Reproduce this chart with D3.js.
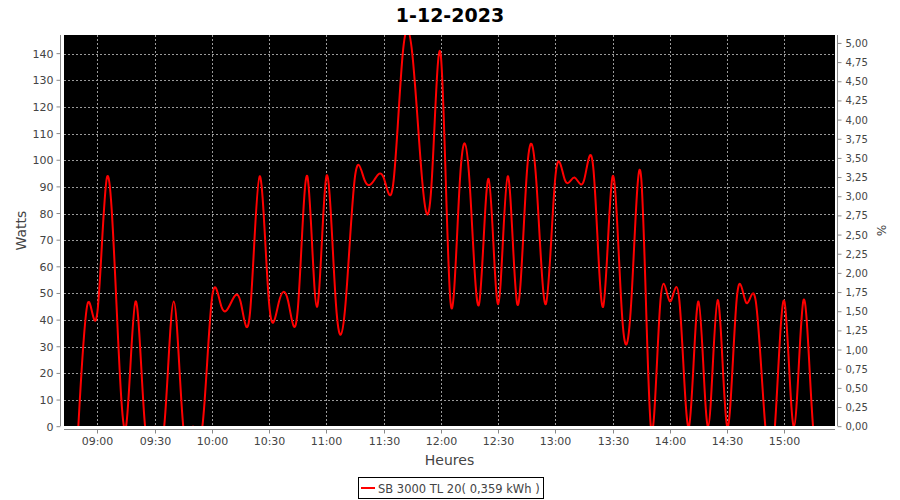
<!DOCTYPE html>
<html>
<head>
    <meta charset="UTF-8">
    <title>1-12-2023</title>
    <script type="text/javascript" src="https://d3js.org/d3.v7.min.js"></script>
    <style>
        body { margin: 0; background: #fff; }
        text { font-family: "DejaVu Sans", sans-serif; }
    </style>
</head>
<body>
<svg width="900" height="500"></svg>
<script>
    // donnees : une mesure toutes les 5 minutes
    var titre = "1-12-2023";
    var nomSerie = "SB 3000 TL 20( 0,359 kWh )";
    var heures = [
        "08:50", "08:55", "09:00", "09:05", "09:10", "09:15", "09:20", "09:25",
        "09:30", "09:35", "09:40", "09:45", "09:50", "09:55", "10:00", "10:05", "10:10",
        "10:15", "10:20", "10:25", "10:30", "10:35", "10:40", "10:45", "10:50", "10:55",
        "11:00", "11:05", "11:10", "11:15", "11:20", "11:25", "11:30", "11:35", "11:40",
        "11:45", "11:50", "11:55", "12:00", "12:05", "12:10", "12:15", "12:20", "12:25",
        "12:30", "12:35", "12:40", "12:45", "12:50", "12:55", "13:00", "13:05", "13:10",
        "13:15", "13:20", "13:25", "13:30", "13:35", "13:40", "13:45", "13:50", "13:55",
        "14:00", "14:05", "14:10", "14:15", "14:20", "14:25", "14:30", "14:35", "14:40",
        "14:45", "14:50", "14:55", "15:00", "15:05", "15:10", "15:15", "15:20"
    ];
    var watts = [
        0, 46.5, 43, 93.5, 46, 0, 47, 0,
        0, 0, 47, 0, 0, 0, 48, 45, 46.5,
        47, 43, 94, 46, 46.5, 47, 44, 94, 45,
        94, 46, 46, 94, 92.5, 92.5, 93.5, 91, 140,
        140, 94, 90, 139, 47, 93, 92, 46, 93,
        46, 94, 46, 95, 92, 46, 94, 92.5, 93.5,
        92.5, 96, 45, 94, 41, 50, 93, 0, 47,
        47, 47, 0, 47, 0, 47.5, 0, 48, 46.5,
        47, 0, 0, 47, 0, 47.5, 0, 0
    ];
    var ticksWatts = [0, 10, 20, 30, 40, 50, 60, 70, 80, 90, 100, 110, 120, 130, 140];
    var ticksPct = [0, 0.25, 0.5, 0.75, 1, 1.25, 1.5, 1.75, 2, 2.25, 2.5, 2.75, 3, 3.25, 3.5, 3.75, 4, 4.25, 4.5, 4.75, 5];
    var ticksHeures = ["09:00", "09:30", "10:00", "10:30", "11:00", "11:30", "12:00", "12:30", "13:00", "13:30", "14:00", "14:30", "15:00"];
    var pctMax = 5.11;

    var marge = {top: 35, left: 64, right: 65, bottom: 74};
    var svg = d3.select("svg");
    var width = +svg.attr("width");
    var height = +svg.attr("height");
    var x0 = marge.left, x1 = width - marge.right;
    var y0 = marge.top, y1 = height - marge.bottom;

    var parseH = d3.timeParse("%Y-%m-%d %H:%M");
    var jour = function (h) { return parseH("2023-12-01 " + h); };
    var data = heures.map(function (h, i) { return {t: jour(h), v: watts[i]}; });

    var ext = d3.extent(data, function (d) { return d.t; });
    var xScale = d3.scaleTime()
        .domain([new Date(+ext[0] - 7.5 * 60000), new Date(+ext[1] + 6.5 * 60000)])
        .range([x0, x1]);
    var yScale = d3.scaleLinear()
        .domain([0, d3.max(watts) * 1.05])
        .range([y1 + 0.7, y0]);
    var pScale = d3.scaleLinear()
        .domain([0, pctMax])
        .range([y1 + 0.7, y0]);

    // titre
    svg.append("text")
        .attr("x", width / 2).attr("y", 22)
        .attr("text-anchor", "middle")
        .style("font-size", "19px").style("font-weight", "bold")
        .text(titre);

    // fond du graphique
    svg.append("rect")
        .attr("x", x0).attr("y", y0)
        .attr("width", x1 - x0).attr("height", y1 - y0)
        .attr("fill", "#000");

    // grille
    var grille = svg.append("g")
        .attr("stroke", "#9a9a9a").attr("stroke-width", 1)
        .attr("stroke-dasharray", "2,2");
    grille.selectAll(".gh").data(ticksWatts.slice(1)).enter().append("line")
        .attr("x1", x0).attr("x2", x1)
        .attr("y1", function (d) { return Math.round(yScale(d)) + 0.5; })
        .attr("y2", function (d) { return Math.round(yScale(d)) + 0.5; });
    grille.selectAll(".gv").data(ticksHeures).enter().append("line")
        .attr("y1", y0).attr("y2", y1)
        .attr("x1", function (d) { return Math.round(xScale(jour(d))) + 0.5; })
        .attr("x2", function (d) { return Math.round(xScale(jour(d))) + 0.5; });

    // courbe
    svg.append("clipPath").attr("id", "clip")
        .append("rect")
        .attr("x", x0).attr("y", y0)
        .attr("width", x1 - x0).attr("height", y1 - y0);
    var ligne = d3.line()
        .x(function (d) { return xScale(d.t); })
        .y(function (d) { return yScale(d.v); })
        .curve(d3.curveNatural);
    svg.append("path")
        .datum(data)
        .attr("clip-path", "url(#clip)")
        .attr("fill", "none")
        .attr("stroke", "#ff0000")
        .attr("stroke-width", 2)
        .attr("stroke-linejoin", "round")
        .attr("d", ligne);

    // axes
    var gris = "#888";
    var texte = "#444";
    var virgule = function (d) { return d3.format(".2f")(d).replace(".", ","); };

    // axe gauche
    var axeG = svg.append("g");
    axeG.append("line").attr("x1", 60.5).attr("x2", 60.5).attr("y1", y0).attr("y2", y1)
        .attr("stroke", gris);
    var tg = axeG.selectAll(".t").data(ticksWatts).enter().append("g")
        .attr("transform", function (d) { return "translate(0," + yScale(d) + ")"; });
    tg.append("line").attr("x1", 56.5).attr("x2", 60.5).attr("stroke", gris);
    tg.append("text").attr("x", 53.5).attr("y", 4)
        .attr("text-anchor", "end").attr("fill", texte)
        .style("font-size", "11px")
        .text(function (d) { return d; });
    svg.append("text")
        .attr("transform", "translate(26," + ((y0 + y1) / 2) + ") rotate(-90)")
        .attr("text-anchor", "middle").attr("fill", texte)
        .style("font-size", "14px")
        .text("Watts");

    // axe droit
    var axeD = svg.append("g");
    axeD.append("line").attr("x1", 837.5).attr("x2", 837.5).attr("y1", y0).attr("y2", y1)
        .attr("stroke", gris);
    var td = axeD.selectAll(".t").data(ticksPct).enter().append("g")
        .attr("transform", function (d) { return "translate(0," + pScale(d) + ")"; });
    td.append("line").attr("x1", 837.5).attr("x2", 841.5).attr("stroke", gris);
    td.append("text").attr("x", 845.5).attr("y", 3.5)
        .attr("fill", texte)
        .style("font-size", "10px")
        .text(virgule);
    svg.append("text")
        .attr("transform", "translate(877," + ((y0 + y1) / 2) + ") rotate(90)")
        .attr("text-anchor", "middle").attr("fill", texte)
        .style("font-size", "12px")
        .text("%");

    // axe du bas
    var axeB = svg.append("g");
    axeB.append("line").attr("x1", x0).attr("x2", x1).attr("y1", 429.5).attr("y2", 429.5)
        .attr("stroke", gris);
    var tb = axeB.selectAll(".t").data(ticksHeures).enter().append("g")
        .attr("transform", function (d) { return "translate(" + (Math.round(xScale(jour(d))) + 0.5) + ",0)"; });
    tb.append("line").attr("y1", 429.5).attr("y2", 433.5).attr("stroke", gris);
    tb.append("text").attr("y", 445)
        .attr("text-anchor", "middle").attr("fill", texte)
        .style("font-size", "11px")
        .text(function (d) { return d; });
    svg.append("text")
        .attr("x", (x0 + x1) / 2).attr("y", 465)
        .attr("text-anchor", "middle").attr("fill", texte)
        .style("font-size", "14px")
        .text("Heures");

    // legende
    var leg = svg.append("g");
    leg.append("rect")
        .attr("x", 358.5).attr("y", 477.5).attr("width", 185).attr("height", 21)
        .attr("fill", "#fff").attr("stroke", "#000");
    leg.append("line")
        .attr("x1", 361).attr("x2", 375).attr("y1", 488).attr("y2", 488)
        .attr("stroke", "#ff0000").attr("stroke-width", 2);
    leg.append("text")
        .attr("x", 378).attr("y", 492.5)
        .attr("fill", texte)
        .style("font-size", "11.5px")
        .text(nomSerie);
</script>
</body>
</html>
